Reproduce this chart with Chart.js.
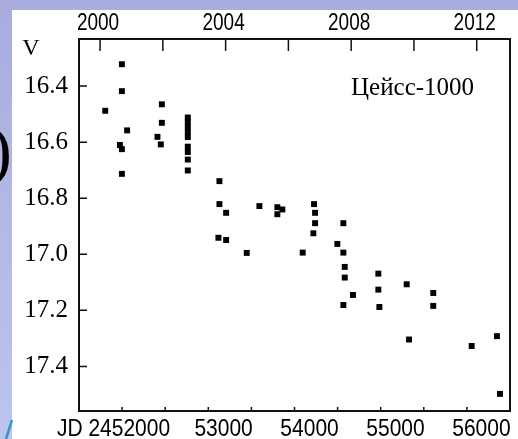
<!DOCTYPE html>
<html>
<head>
<meta charset="utf-8">
<script src="https://cdn.jsdelivr.net/npm/chart.js@4.4.1/dist/chart.umd.min.js"></script>
<style>
  body { margin: 0; background: #fff; }
  canvas { display: block; }
</style>
</head>
<body>
<canvas id="lightCurve" width="518" height="439"></canvas>
<script>
// JD - 2400000 and V magnitude
const jd = [51605, 51776, 51799, 51799, 51799, 51799, 51860, 52213, 52252, 52264, 52264,
    52566, 52566, 52566, 52566, 52566, 52566, 52566, 52566, 52566,
    52922, 52934, 52934, 53012, 53012, 53252, 53399, 53608, 53608, 53666, 53903,
    54027, 54035, 54047, 54047, 54306, 54376, 54376, 54376, 54392, 54392, 54488,
    54783, 54783, 54795, 55113, 55140, 55422, 55422, 55869, 56163, 56198];
const mag = [16.488, 16.610, 16.322, 16.418, 16.625, 16.713, 16.558, 16.581, 16.608, 16.465, 16.531,
    16.512, 16.528, 16.546, 16.564, 16.582, 16.616, 16.635, 16.662, 16.701,
    16.941, 16.739, 16.821, 16.852, 16.949, 16.995, 16.828, 16.832, 16.857, 16.840, 16.994,
    16.925, 16.821, 16.852, 16.889, 16.963, 16.889, 16.994, 17.181, 17.045, 17.083, 17.145,
    17.069, 17.126, 17.188, 17.107, 17.304, 17.138, 17.184, 17.327, 17.292, 17.498];

const jdMin = 51300, jdMax = 56315;
const magMin = 16.232, magMax = 17.559;
const jdLabels = [52000, 53000, 54000, 55000, 56000];
const yearLabels = [2000, 2004, 2008, 2012];
const instrument = 'Цейсс-1000';

const yearOf = d => 2000 + (d + 2400000 - 2451545) / 365.25;

const serif = "'Liberation Serif', 'Times New Roman', serif";
const sans = "'Liberation Sans', Arial, sans-serif";
Chart.defaults.font.family = serif;
Chart.defaults.color = '#000';

// the scanned figure is a bit stretched vertically, so the axis numbers are too
function tallText(c, text, x, y, size, stretch, align) {
    c.save();
    c.translate(x, y);
    c.scale(1, stretch);
    c.font = size + 'px ' + sans;
    c.textAlign = align;
    c.textBaseline = 'alphabetic';
    c.fillText(text, 0, 0);
    c.restore();
}

const framePlugin = {
    id: 'frame',
    beforeDraw(chart) {
        const c = chart.ctx;
        c.save();
        const g = c.createLinearGradient(0, 0, 0, chart.height);
        g.addColorStop(0, '#a8acdf');
        g.addColorStop(1, '#bcc4f0');
        c.fillStyle = g;
        c.fillRect(0, 0, chart.width, chart.height);
        c.fillStyle = '#fff';
        c.fillRect(12, 10, chart.width - 12, chart.height - 10);
        // bits of the slide behind the figure
        c.fillStyle = '#000';
        c.font = '68px ' + serif;
        c.textAlign = 'right';
        c.fillText(')', 12, 173);
        c.strokeStyle = '#3399cc';
        c.lineWidth = 2.5;
        c.beginPath();
        c.moveTo(12, 420);
        c.lineTo(6, 439);
        c.stroke();
        c.restore();
    },
    afterDraw(chart) {
        const { ctx: c, chartArea: a, scales } = chart;
        c.save();
        c.strokeStyle = '#111';
        c.lineWidth = 2;
        c.strokeRect(a.left, a.top, a.right - a.left, a.bottom - a.top);
        c.lineWidth = 1.5;
        c.beginPath();
        scales.x.ticks.forEach(t => {
            const px = scales.x.getPixelForValue(t.value);
            const len = t.value % 1000 === 0 ? 12 : 4;
            c.moveTo(px, a.bottom);
            c.lineTo(px, a.bottom - len);
        });
        scales.x2.ticks.forEach(t => {
            const px = scales.x2.getPixelForValue(t.value);
            c.moveTo(px, a.top);
            c.lineTo(px, a.top + 12);
        });
        scales.y.ticks.forEach(t => {
            const py = scales.y.getPixelForValue(t.value);
            c.moveTo(a.left, py);
            c.lineTo(a.left + 8, py);
        });
        c.stroke();

        c.fillStyle = '#000';
        // bottom JD labels, the first one carries the full "JD 24..." prefix
        jdLabels.forEach((v, i) => {
            const px = scales.x.getPixelForValue(v);
            if (i === 0) tallText(c, 'JD 24' + v, px + 31, 435.5, 21, 1.16, 'right');
            else tallText(c, String(v), px - 1.5, 435.5, 21, 1.16, 'center');
        });
        yearLabels.forEach(v => {
            tallText(c, String(v), scales.x2.getPixelForValue(v) - 2, 30, 19, 1.23, 'center');
        });

        c.textBaseline = 'middle';
        c.font = '24px ' + serif;
        c.textAlign = 'center';
        c.fillText('V', 31, 49);
        c.font = '25px ' + serif;
        c.textAlign = 'left';
        c.fillText(instrument, 351, 88);
        c.restore();
    }
};

const ctx = document.getElementById('lightCurve').getContext('2d');

new Chart(ctx, {
    type: 'scatter',
    data: {
        datasets: [{
            data: jd.map((d, i) => ({ x: d, y: mag[i] })),
            backgroundColor: '#000',
            borderWidth: 0,
            pointStyle: 'rect',
            pointRadius: 4.2,
            pointHoverRadius: 4.2
        }]
    },
    options: {
        responsive: false,
        animation: false,
        events: [],
        layout: { padding: { right: 8 } },
        plugins: { legend: { display: false }, tooltip: { enabled: false } },
        scales: {
            x: {
                type: 'linear',
                position: 'bottom',
                min: jdMin,
                max: jdMax,
                afterFit: s => { s.height = 28; },
                grid: { display: false, drawTicks: false },
                border: { display: false },
                ticks: { display: false, stepSize: 500, includeBounds: false, autoSkip: false, maxRotation: 0 }
            },
            x2: {
                type: 'linear',
                position: 'top',
                display: true,
                min: yearOf(jdMin),
                max: yearOf(jdMax),
                afterFit: s => { s.height = 39; },
                grid: { display: false, drawTicks: false },
                border: { display: false },
                ticks: { display: false, stepSize: 2, includeBounds: false, autoSkip: false, maxRotation: 0 }
            },
            y: {
                type: 'linear',
                reverse: true,
                min: magMin,
                max: magMax,
                afterFit: s => { s.width = 79; },
                grid: { display: false, drawTicks: false },
                border: { display: false },
                ticks: {
                    stepSize: 0.2,
                    includeBounds: false,
                    padding: 11,
                    font: { size: 25 },
                    callback: v => v.toFixed(1)
                }
            }
        }
    },
    plugins: [framePlugin]
});
</script>
</body>
</html>
